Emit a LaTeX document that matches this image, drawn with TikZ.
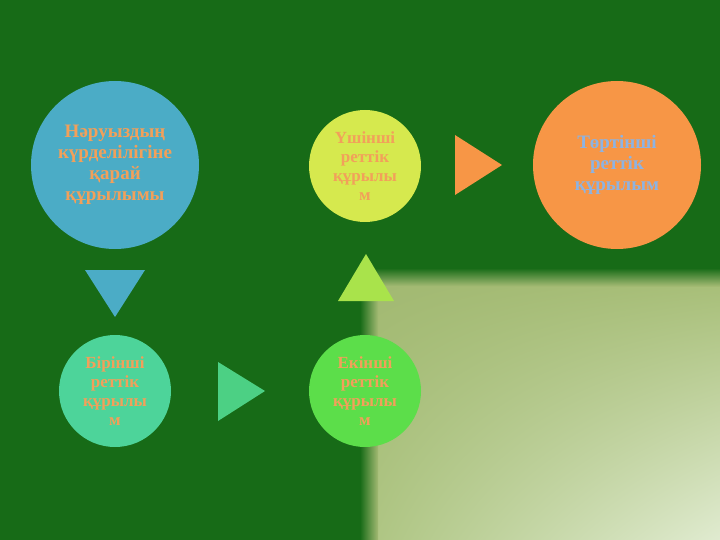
\documentclass[tikz,border=0pt]{standalone}
\usepackage{fontspec}
\setmainfont{Liberation Serif}
\usetikzlibrary{positioning,shadings}
\definecolor{bggreen}{HTML}{176B17}
\definecolor{olivea}{HTML}{A2B972}
\definecolor{oliveb}{HTML}{AFC684}
\definecolor{olivec}{HTML}{A8BF79}
\definecolor{paleend}{HTML}{E0EBD0}
\definecolor{cblue}{HTML}{4BACC6}
\definecolor{cmint}{HTML}{4DD49A}
\definecolor{cgreen}{HTML}{4CD084}
\definecolor{clime}{HTML}{5CDE4A}
\definecolor{cyellow}{HTML}{D6E94E}
\definecolor{ctri}{HTML}{A9E34B}
\definecolor{corange}{HTML}{F79646}
\definecolor{txtorange}{HTML}{F2A05A}
\definecolor{txtblue}{HTML}{8DB3E2}
\tikzset{
  stage/.style={circle,inner sep=0pt,align=center,text=txtorange,
    font=\bfseries\fontsize{17}{19}\selectfont,minimum size=112pt},
  bigstage/.style={stage,font=\bfseries\fontsize{19}{21}\selectfont,minimum size=168pt}
}

\begin{document}
\begin{tikzpicture}[x=1pt,y=-1pt]
\useasboundingbox (0,0) rectangle (720,540);
\fill[bggreen] (0,0) rectangle (720,540);
% light panel bottom right
\shade[upper left=olivea,upper right=olivec,lower left=oliveb,lower right=paleend] (378,286) rectangle (720,540);
\shade[left color=bggreen,right color=olivea] (360,286) rectangle (378,540);
\shade[top color=bggreen,bottom color=olivea] (378,268) rectangle (720,286);
\shade[upper left=bggreen,upper right=bggreen,lower left=bggreen,lower right=olivea] (360,268) rectangle (378,286);
% stages
\node[bigstage,fill=cblue] (protein) at (115,165) {Нәруыздың\\күрделілігіне\\қарай\\құрылымы};
\node[stage,fill=cmint] (first) at (115,391) {Бірінші\\реттік\\құрылы\\м};
\node[stage,fill=clime] (second) at (365,391) {Екінші\\реттік\\құрылы\\м};
\node[stage,fill=cyellow] (third) at (365,166) {Үшінші\\реттік\\құрылы\\м};
\node[bigstage,fill=corange,text=txtblue] (fourth) at (617,165) {Төртінші\\реттік\\құрылым};
% triangles between stages
\fill[cblue] (85,270) -- (145,270) -- (115,317) -- cycle;
\fill[cgreen] (218,362) -- (218,421) -- (265,391) -- cycle;
\fill[ctri] (338,301) -- (394,301) -- (366,254) -- cycle;
\fill[corange] (455,135) -- (455,195) -- (502,165) -- cycle;
\end{tikzpicture}
\end{document}
